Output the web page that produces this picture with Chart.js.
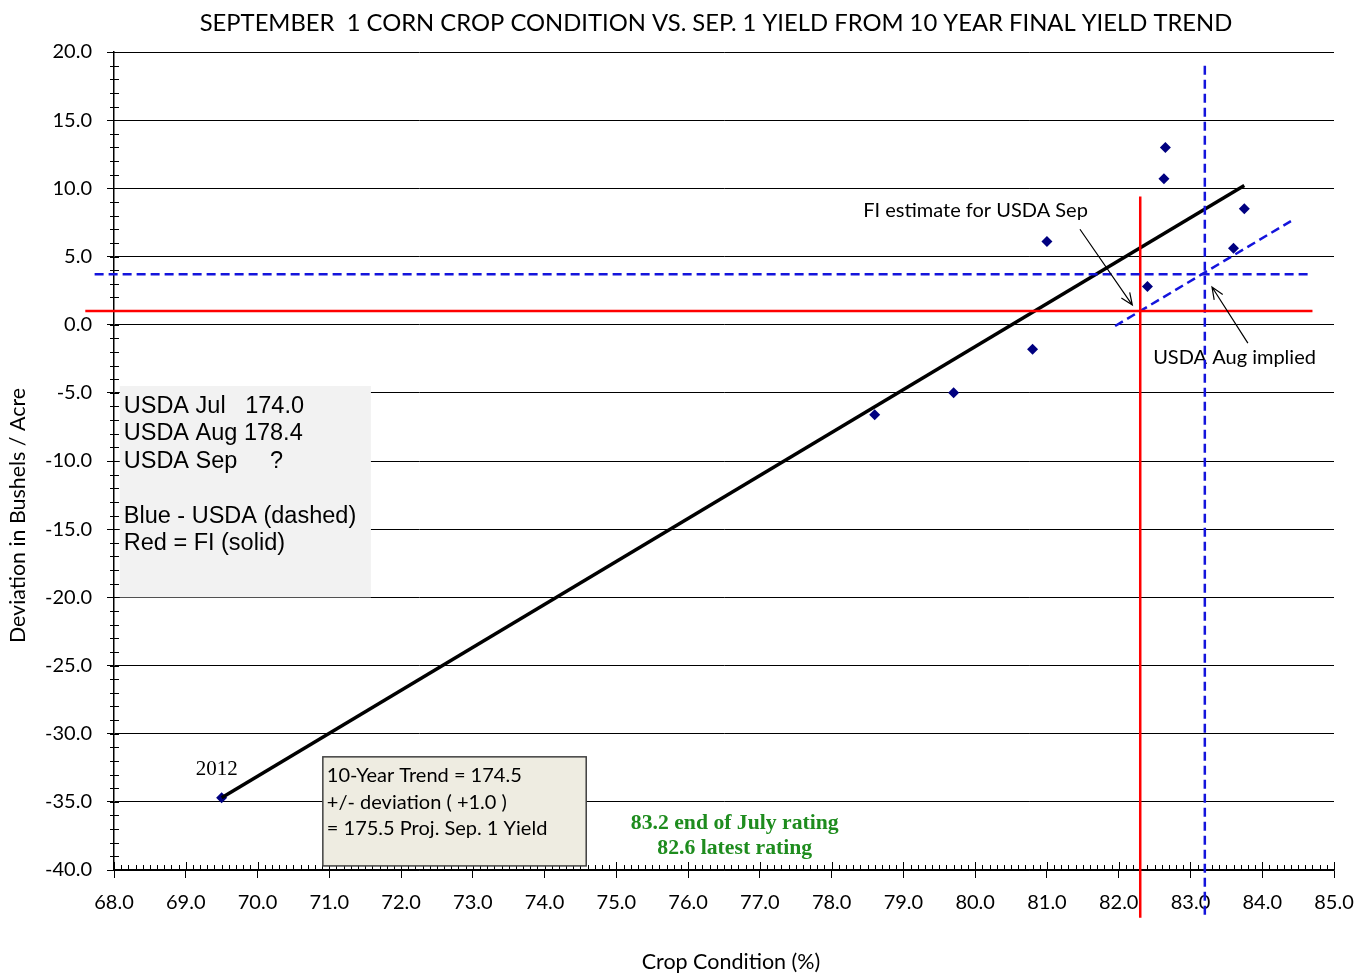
<!DOCTYPE html>
<html>
<head>
<meta charset="utf-8">
<script src="https://cdn.jsdelivr.net/npm/chart.js@4.4.0/dist/chart.umd.min.js"></script>
<style>
  html, body { margin: 0; padding: 0; background: #fff; }
</style>
</head>
<body>
<canvas id="chart" width="1370" height="974"></canvas>
<script>
// Yearly points: Sep 1 crop condition vs deviation from trend yield
const condition = [69.5, 78.6, 79.7, 80.8, 81.0, 82.4, 82.65, 82.63, 83.6, 83.75];
const deviation = [-34.7, -6.6, -5.0, -1.8, 6.1, 2.8, 13.0, 10.7, 5.6, 8.5];

// regression line
const trendX = [69.5, 83.75];
const trendY = [-34.7, 10.2];

// USDA implied slope (dashed blue)
const usdaSlopeX = [81.95, 84.4];
const usdaSlopeY = [-0.1, 7.6];

// reference lines
const fiDevX = [67.6, 84.7];      // red horizontal
const fiDevY = [1.0, 1.0];
const usdaDevX = [67.73, 84.7];   // blue horizontal
const usdaDevY = [3.7, 3.7];
const fiCondX = [82.3, 82.3];     // red vertical
const fiCondY = [9.4, -43.5];
const usdaCondX = [83.2, 83.2];   // blue vertical
const usdaCondY = [19.0, -43.5];

// axes
const xMin = 68, xMax = 85, xStep = 1, xMinor = 0.1;
const yMin = -40, yMax = 20, yStep = 5, yMinor = 1;

const titleText = 'SEPTEMBER  1 CORN CROP CONDITION VS. SEP. 1 YIELD FROM 10 YEAR FINAL YIELD TREND';
const xTitle = 'Crop Condition (%)';
const yTitle = 'Deviation in Bushels / Acre';

const infoLines = ['USDA Jul   174.0', 'USDA Aug 178.4', 'USDA Sep     ?', '', 'Blue - USDA (dashed)', 'Red = FI (solid)'];
const trendLines = ['10-Year Trend = 174.5', '+/- deviation ( +1.0 )', '= 175.5 Proj. Sep. 1 Yield'];
const ratingLines = ['83.2 end of July rating', '82.6 latest rating'];

const pts = (xs, ys) => xs.map((x, i) => ({ x: x, y: ys[i] }));

function lineSet(xs, ys, color, width, dash) {
  return {
    type: 'line',
    data: pts(xs, ys),
    borderColor: color,
    borderWidth: width,
    borderDash: dash || [],
    pointRadius: 0,
    fill: false,
    clip: false,
    showLine: true
  };
}

// draw the extras: boxes, texts, arrows, minor ticks, titles
const extras = {
  id: 'extras',
  beforeDatasetsDraw(chart) {
    const ctx = chart.ctx;
    const xs = chart.scales.x, ys = chart.scales.y;
    const px = v => xs.getPixelForValue(v);
    const py = v => ys.getPixelForValue(v);
    const area = chart.chartArea;

    ctx.save();
    // minor ticks
    ctx.strokeStyle = '#000';
    ctx.lineWidth = 1;
    ctx.beginPath();
    for (let v = yMin; v <= yMax + 0.001; v += yMinor) {
      const y = Math.round(py(v)) + 0.5;
      ctx.moveTo(area.left - 4, y);
      ctx.lineTo(area.left + 5, y);
    }
    for (let i = 0; i <= Math.round((xMax - xMin) / xMinor); i++) {
      const v = xMin + i * xMinor;
      const x = Math.round(px(v)) + 0.5;
      const major = i % 10 === 0;
      ctx.moveTo(x, area.bottom);
      ctx.lineTo(x, area.bottom - (major ? 8 : 5));
    }
    ctx.stroke();

    // chart title
    ctx.fillStyle = '#000';
    ctx.textBaseline = 'middle';
    ctx.textAlign = 'center';
    ctx.font = '23.8px Lato, sans-serif';
    ctx.fillText(titleText, 716, 23);

    // x axis title
    ctx.font = '21.5px Lato, sans-serif';
    ctx.fillText(xTitle, 731, 962);

    // y axis title
    ctx.save();
    ctx.translate(18, py(-14));
    ctx.rotate(-Math.PI / 2);
    ctx.font = '21.4px Lato, sans-serif';
    ctx.fillText(yTitle, 0, 0);
    ctx.restore();

    // info box (grey)
    ctx.fillStyle = '#f2f2f2';
    ctx.fillRect(px(68.08), py(-4.5), px(71.58) - px(68.08), py(-20.0) - py(-4.5));
    ctx.fillStyle = '#000';
    ctx.font = '23.5px "Liberation Sans", Arial, sans-serif';
    ctx.textAlign = 'left';
    infoLines.forEach((t, i) => ctx.fillText(t, px(68.08) + 4, py(-4.5) + 20 + i * 27.5));

    // trend box
    const bx = px(70.91), by = py(-31.7);
    const bw = px(74.58) - bx, bh = py(-39.7) - by;
    ctx.fillStyle = '#eeece1';
    ctx.fillRect(bx, by, bw, bh);
    ctx.strokeStyle = '#404040';
    ctx.lineWidth = 1.5;
    ctx.strokeRect(bx, by, bw, bh);
    ctx.fillStyle = '#000';
    ctx.font = '20px Lato, sans-serif';
    trendLines.forEach((t, i) => ctx.fillText(t, bx + 4, by + 19 + i * 26.5));

    // green ratings
    ctx.fillStyle = '#1e8c1e';
    ctx.font = 'bold 21.7px "Liberation Serif", "Times New Roman", serif';
    ctx.textAlign = 'center';
    ratingLines.forEach((t, i) => ctx.fillText(t, px(76.65), py(-36.3) + 4 + i * 25));

    // 2012 label
    ctx.fillStyle = '#000';
    ctx.font = '21px "Liberation Serif", "Times New Roman", serif';
    ctx.textAlign = 'left';
    ctx.fillText('2012', px(69.14), py(-32.6));

    // annotations
    ctx.font = '20px Lato, sans-serif';
    ctx.fillText('FI estimate for USDA Sep', px(78.44), py(8.4));
    ctx.fillText('USDA Aug implied', px(82.48), py(-2.4));

    ctx.restore();
  },
  afterDatasetsDraw(chart) {
    const ctx = chart.ctx;
    const xs = chart.scales.x, ys = chart.scales.y;
    const px = v => xs.getPixelForValue(v);
    const py = v => ys.getPixelForValue(v);
    function arrow(x1, y1, x2, y2) {
      const a = px(x1), b = py(y1), c = px(x2), d = py(y2);
      const ang = Math.atan2(d - b, c - a);
      const L = 13, s = 0.4;
      ctx.beginPath();
      ctx.moveTo(a, b);
      ctx.lineTo(c, d);
      ctx.moveTo(c - L * Math.cos(ang - s), d - L * Math.sin(ang - s));
      ctx.lineTo(c, d);
      ctx.lineTo(c - L * Math.cos(ang + s), d - L * Math.sin(ang + s));
      ctx.stroke();
    }
    ctx.save();
    ctx.strokeStyle = '#000';
    ctx.lineWidth = 1.2;
    arrow(81.46, 7.0, 82.19, 1.44);
    arrow(83.80, -1.35, 83.30, 2.76);
    ctx.restore();
  }
};

new Chart(document.getElementById('chart'), {
  type: 'scatter',
  data: {
    datasets: [
      lineSet(fiDevX, fiDevY, '#ff0000', 2.5),
      lineSet(usdaDevX, usdaDevY, '#1414dc', 2.5, [9, 5]),
      lineSet(fiCondX, fiCondY, '#ff0000', 2.5),
      lineSet(usdaCondX, usdaCondY, '#1414dc', 2.5, [9, 5]),
      lineSet(usdaSlopeX, usdaSlopeY, '#1414dc', 2.5, [9, 5]),
      lineSet(trendX, trendY, '#000000', 3.5),
      {
        data: pts(condition, deviation),
        pointStyle: 'rectRot',
        pointRadius: 5.5,
        backgroundColor: '#000080',
        borderColor: '#000080',
        borderWidth: 0,
        clip: false
      }
    ]
  },
  options: {
    responsive: false,
    animation: false,
    layout: { padding: { left: 0, right: 36, top: 52, bottom: 0 } },
    plugins: {
      legend: { display: false },
      tooltip: { enabled: false },
      title: { display: false }
    },
    scales: {
      x: {
        type: 'linear',
        min: xMin, max: xMax,
        ticks: { stepSize: xStep, color: '#000', padding: 13, maxRotation: 0,
                 font: { family: 'Lato', size: 20 }, callback: v => v.toFixed(1) },
        grid: { drawOnChartArea: false, drawTicks: true, tickLength: 8, color: '#000', tickColor: '#000' },
        border: { color: '#000', width: 1.5 },
        afterFit: s => { s.height = 104; }
      },
      y: {
        type: 'linear',
        min: yMin, max: yMax,
        ticks: { stepSize: yStep, color: '#000', padding: 15,
                 font: { family: 'Lato', size: 20 }, callback: v => v.toFixed(1) },
        grid: { color: '#000', lineWidth: 1, tickLength: 7, tickColor: '#000' },
        border: { color: '#000', width: 1.5 },
        afterFit: s => { s.width = 114; }
      }
    }
  },
  plugins: [extras]
});
</script>
</body>
</html>
